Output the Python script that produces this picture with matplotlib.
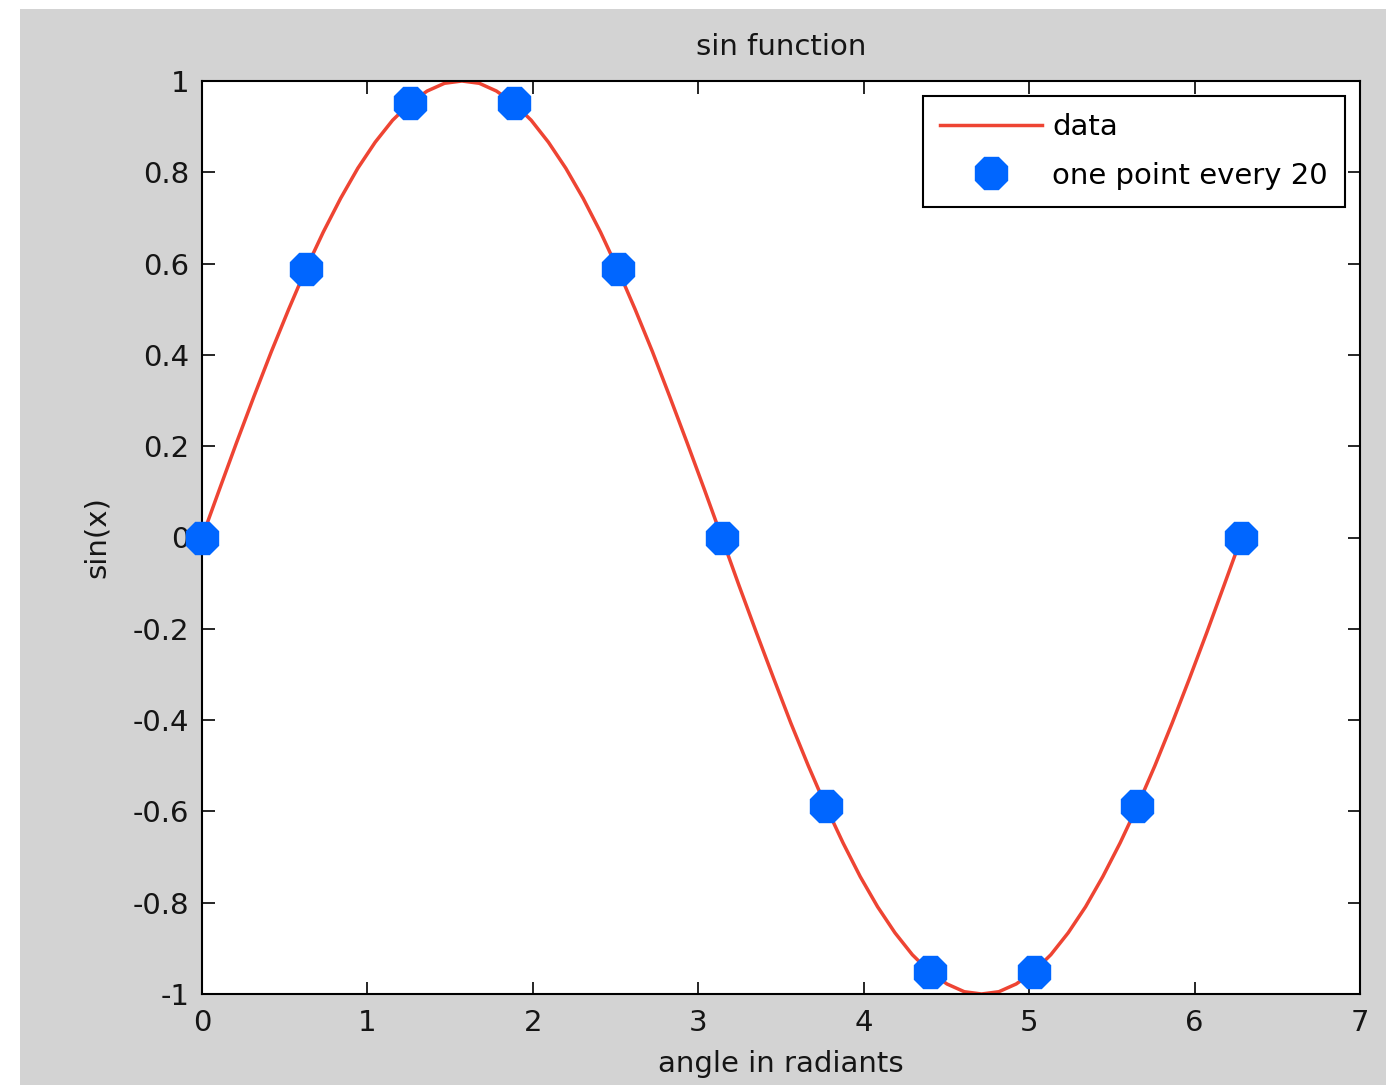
import matplotlib.pyplot as plt
from matplotlib.patches import Rectangle

x_data = [0.000, 0.105, 0.209, 0.314, 0.419, 0.524, 0.628, 0.733, 0.838, 0.942,
          1.047, 1.152, 1.257, 1.361, 1.466, 1.571, 1.676, 1.780, 1.885, 1.990,
          2.094, 2.199, 2.304, 2.409, 2.513, 2.618, 2.723, 2.827, 2.932, 3.037,
          3.142, 3.246, 3.351, 3.456, 3.560, 3.665, 3.770, 3.875, 3.979, 4.084,
          4.189, 4.294, 4.398, 4.503, 4.608, 4.712, 4.817, 4.922, 5.027, 5.131,
          5.236, 5.341, 5.445, 5.550, 5.655, 5.760, 5.864, 5.969, 6.074, 6.178,
          6.283]
y_data = [0.000, 0.105, 0.208, 0.309, 0.407, 0.500, 0.588, 0.669, 0.743, 0.809,
          0.866, 0.914, 0.951, 0.978, 0.995, 1.000, 0.995, 0.978, 0.951, 0.914,
          0.866, 0.809, 0.743, 0.669, 0.588, 0.500, 0.407, 0.309, 0.208, 0.105,
          0.000, -0.105, -0.208, -0.309, -0.407, -0.500, -0.588, -0.669, -0.743, -0.809,
          -0.866, -0.914, -0.951, -0.978, -0.995, -1.000, -0.995, -0.978, -0.951, -0.914,
          -0.866, -0.809, -0.743, -0.669, -0.588, -0.500, -0.407, -0.309, -0.208, -0.105,
          0.000]

# one point every 20
x_pts = [0.000, 0.628, 1.257, 1.885, 2.513, 3.142, 3.770, 4.398, 5.027, 5.655, 6.283]
y_pts = [0.000, 0.588, 0.951, 0.951, 0.588, 0.000, -0.588, -0.951, -0.951, -0.588, 0.000]

x_ticks = [0, 1, 2, 3, 4, 5, 6, 7]
y_ticks = [-1, -0.8, -0.6, -0.4, -0.2, 0, 0.2, 0.4, 0.6, 0.8, 1]
y_labels = ['-1', '-0.8', '-0.6', '-0.4', '-0.2', '0', '0.2', '0.4', '0.6', '0.8', '1']

W, H = 1386, 1085
FS = 21
TXT = '#151515'

fig = plt.figure(figsize=(W / 100, H / 100), dpi=100, facecolor='white')
fig.patches.append(Rectangle((20 / W, 0), 1 - 20 / W, 1 - 9 / H,
                             transform=fig.transFigure, facecolor='#d3d3d3',
                             edgecolor='none', zorder=-10))

ax = fig.add_axes([202 / W, 1 - 994 / H, (1360 - 202) / W, (994 - 81) / H])
ax.set_facecolor('white')

ax.plot(x_data, y_data, color='#ee4433', lw=2.5, label='data', zorder=2)
ax.plot(x_pts, y_pts, linestyle='none', marker='8', ms=25, color='#0066ff',
        mec='#0066ff', label='one point every 20', zorder=3, clip_on=False)

ax.set_xlim(0, 7)
ax.set_ylim(-1, 1)
ax.set_xticks(x_ticks)
ax.set_yticks(y_ticks)
ax.set_yticklabels(y_labels)
ax.tick_params(direction='in', length=9, width=1.3, top=True, right=True,
               labelsize=FS, colors=TXT)
ax.tick_params(axis='x', pad=11)
ax.tick_params(axis='y', pad=9)
for s in ax.spines.values():
    s.set_linewidth(1.5)

ax.set_title('sin function', fontsize=FS, pad=19, color=TXT)
ax.set_xlabel('angle in radiants', fontsize=FS, labelpad=9, color=TXT)
ax.set_ylabel('sin(x)', fontsize=FS, labelpad=16, color=TXT)

leg = ax.legend(loc='upper right', fontsize=FS, frameon=True, fancybox=False,
                handlelength=3.5, borderaxespad=0.5, labelspacing=0.7,
                borderpad=0.6, handletextpad=0.35)
leg.get_frame().set_edgecolor('black')
leg.get_frame().set_linewidth(1.5)
leg.get_frame().set_alpha(1)

fig.savefig('out.png', dpi=100, facecolor=fig.get_facecolor())
